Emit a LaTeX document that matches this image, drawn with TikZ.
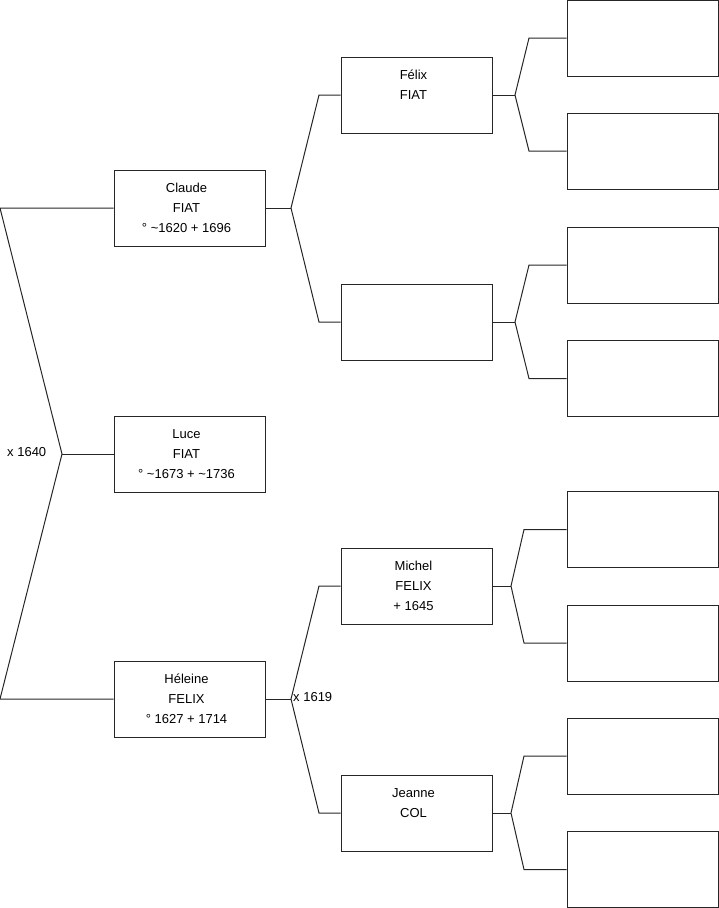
\documentclass[tikz,border=0pt]{standalone}
\usepackage{fontspec}
\setmainfont{Liberation Sans}
\newcommand\rows[1]{\begin{tabular}{@{}c@{}}#1\end{tabular}\hspace*{6pt}}
\begin{document}
\begin{tikzpicture}[x=1pt,y=-1pt,
  box/.style={draw=black!85,line width=1pt,minimum width=151pt,minimum height=76pt,
    inner sep=0pt,font=\fontsize{13}{20}\selectfont,fill=white},
  link/.style={draw=black!85,line width=1pt},
  tag/.style={font=\fontsize{13}{20}\selectfont,inner sep=0pt,anchor=west}]
\useasboundingbox (0,0) rectangle (719,908);
% generation 1
\node[box] (claude) at (189.5,208) {\rows{Claude\\FIAT\\° \textasciitilde1620 + 1696}};
\node[box] (luce) at (189.5,454) {\rows{Luce\\FIAT\\° \textasciitilde1673 + \textasciitilde1736}};
\node[box] (hel) at (189.5,699) {\rows{Héleine\\FELIX\\° 1627 + 1714}};
% generation 2
\node[box] (felix) at (416.5,95) {\rows{Félix\\FIAT\\\mbox{}}};
\node[box] (p2) at (416.5,322) {};
\node[box] (michel) at (416.5,586) {\rows{Michel\\FELIX\\+ 1645}};
\node[box] (jeanne) at (416.5,813) {\rows{Jeanne\\COL\\\mbox{}}};
% generation 3
\node[box] (g1) at (642.5,38) {};
\node[box] (g2) at (642.5,151) {};
\node[box] (g3) at (642.5,265) {};
\node[box] (g4) at (642.5,378.5) {};
\node[box] (g5) at (642.5,529.5) {};
\node[box] (g6) at (642.5,643) {};
\node[box] (g7) at (642.5,756) {};
\node[box] (g8) at (642.5,869.5) {};
% labels
\node[tag] (m1640) at (7,452) {x 1640};
\node[tag] (m1619) at (293,697) {x 1619};
% junctions
\coordinate (j0) at (62,454);
\coordinate (l1) at (0,208);
\coordinate (l2) at (0,699);
\coordinate (j1) at (291,208);
\coordinate (j2) at (291,699);
\coordinate (j3) at (515,95);
\coordinate (j4) at (515,322);
\coordinate (j5) at (511,586);
\coordinate (j6) at (511,813);
% connectors
\draw[link] (claude.west) -- (l1) -- (j0) -- (l2) -- (hel.west);
\draw[link] (j0) -- (luce.west);
\draw[link] (claude.east) -- (j1);
\draw[link] (felix.west) -- (319,95) -- (j1) -- (319,322) -- (p2.west);
\draw[link] (hel.east) -- (j2);
\draw[link] (michel.west) -- (319,586) -- (j2) -- (319,813) -- (jeanne.west);
\draw[link] (felix.east) -- (j3);
\draw[link] (g1.west) -- (529,38) -- (j3) -- (529,151) -- (g2.west);
\draw[link] (p2.east) -- (j4);
\draw[link] (g3.west) -- (529,265) -- (j4) -- (529,378.5) -- (g4.west);
\draw[link] (michel.east) -- (j5);
\draw[link] (g5.west) -- (524,529.5) -- (j5) -- (524,643) -- (g6.west);
\draw[link] (jeanne.east) -- (j6);
\draw[link] (g7.west) -- (524,756) -- (j6) -- (524,869.5) -- (g8.west);
\end{tikzpicture}
\end{document}
